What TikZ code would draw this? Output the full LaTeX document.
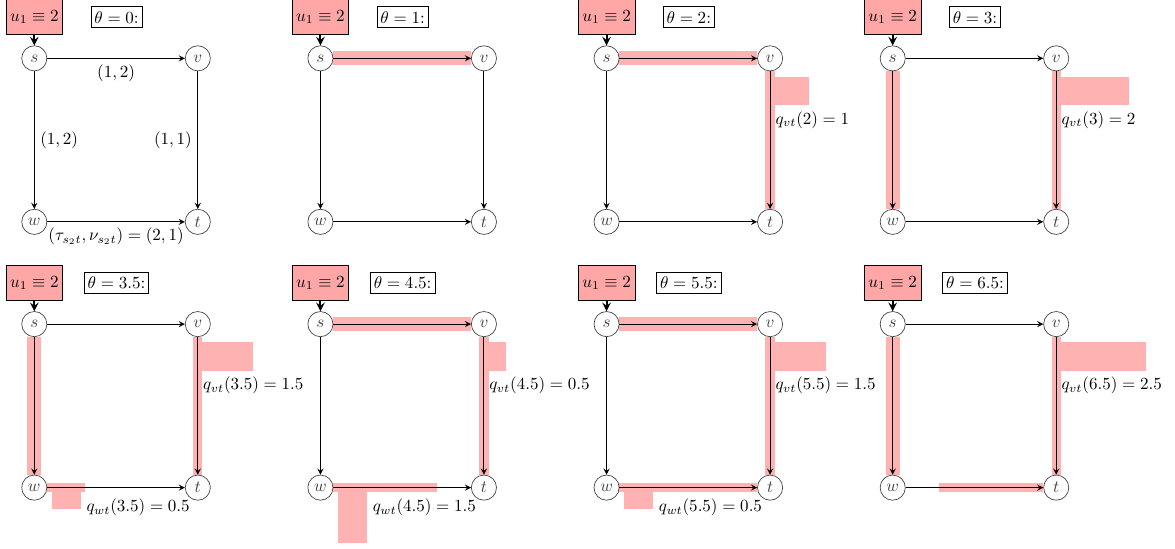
\documentclass[tikz,border=0pt]{standalone}
\usetikzlibrary{positioning,backgrounds}
\newcommand{\netpanel}[3]{%
  \node[vertex] (#1s) at (#2) {$s$};
  \node[vertex, right=of #1s] (#1v) {$v$};
  \node[vertex, below=of #1s] (#1w) {$w$};
  \node[vertex, below=of #1v] (#1t) {$t$};
  \node[inflow, above=0.85cm of #1s] (#1u) {$u_1\equiv 2$};
  \node[timebox, right=1.7cm of #1u] (#1h) {$\theta=#3$:};
  \draw[feed] (#1u) -- (#1s);
  \draw[link] (#1s) -- (#1v);
  \draw[link] (#1s) -- (#1w);
  \draw[link] (#1v) -- (#1t);
  \draw[link] (#1w) -- (#1t);
}

\begin{document}
\begin{tikzpicture}[
      node distance=3.38cm, on grid,
      >=stealth,
      vertex/.style={circle, draw=black!75, text=black!75, minimum size=0.52cm, inner sep=0pt},
      inflow/.style={draw, fill=red!35, minimum width=1.17cm, minimum height=0.72cm, inner sep=2pt},
      timebox/.style={draw, minimum height=0.43cm, inner sep=2pt},
      link/.style={->, semithick},
      feed/.style={->, very thick},
      band2/.style={red!30, line width=0.29cm},
      band1/.style={red!30, line width=0.19cm},
      queue/.style={fill=red!30},
      qlabel/.style={inner sep=1pt, anchor=west}
    ]
  \useasboundingbox (0,0) rectangle (24.29,11.33);

  % Draw the eight snapshots, top row then bottom row
  \netpanel{A}{0.709,10.124}{0}
  \netpanel{B}{6.624,10.124}{1}
  \netpanel{C}{12.539,10.124}{2}
  \netpanel{D}{18.454,10.124}{3}
  \netpanel{E}{0.709,4.63}{3.5}
  \netpanel{F}{6.624,4.63}{4.5}
  \netpanel{G}{12.539,4.63}{5.5}
  \netpanel{H}{18.454,4.63}{6.5}

  % Transit times and capacities
  \path (As) -- (Av) node[midway, below] {$(1,2)$};
  \path (As) -- (Aw) node[midway, right] {$(1,2)$};
  \path (Av) -- (At) node[midway, left] {$(1,1)$};
  \path (Aw) -- (At) node[midway, below] {$(\tau_{s_2t},\nu_{s_2t})=(2,1)$};

  % Queue labels
  \node[qlabel] (Cqvt) at ([shift={(0.07,-1.27)}]Cv) {$q_{vt}(2)=1$};
  \node[qlabel] (Dqvt) at ([shift={(0.07,-1.27)}]Dv) {$q_{vt}(3)=2$};
  \node[qlabel] (Eqvt) at ([shift={(0.07,-1.27)}]Ev) {$q_{vt}(3.5)=1.5$};
  \node[qlabel] (Fqvt) at ([shift={(0.07,-1.27)}]Fv) {$q_{vt}(4.5)=0.5$};
  \node[qlabel] (Gqvt) at ([shift={(0.07,-1.27)}]Gv) {$q_{vt}(5.5)=1.5$};
  \node[qlabel] (Hqvt) at ([shift={(0.07,-1.27)}]Hv) {$q_{vt}(6.5)=2.5$};
  \node[qlabel] (Eqwt) at ([shift={(1.04,-0.41)}]Ew) {$q_{wt}(3.5)=0.5$};
  \node[qlabel] (Fqwt) at ([shift={(1.04,-0.41)}]Fw) {$q_{wt}(4.5)=1.5$};
  \node[qlabel] (Gqwt) at ([shift={(1.04,-0.41)}]Gw) {$q_{wt}(5.5)=0.5$};

  % Flow bands and queues behind the arcs
  \begin{scope}[on background layer]
    \draw[band2] (Bs.east) -- (Bv.west);

    \draw[band2] (Cs.east) -- (Cv.west);
    \draw[band1] (Cv.south) -- (Ct.north);
    \fill[queue] ([shift={(0.095,-0.38)}]Cv) rectangle +(0.703,-0.585);

    \draw[band2] (Ds.south) -- (Dw.north);
    \draw[band1] (Dv.south) -- (Dt.north);
    \fill[queue] ([shift={(0.095,-0.38)}]Dv) rectangle +(1.406,-0.585);

    \draw[band2] (Es.south) -- (Ew.north);
    \draw[band1] (Ev.south) -- (Et.north);
    \fill[queue] ([shift={(0.095,-0.38)}]Ev) rectangle +(1.055,-0.585);
    \draw[band1] (Ew.east) -- ([xshift=1.05cm]Ew.center);
    \fill[queue] ([shift={(0.37,-0.095)}]Ew) rectangle +(0.59,-0.352);

    \draw[band2] (Fs.east) -- (Fv.west);
    \draw[band1] (Fv.south) -- (Ft.north);
    \fill[queue] ([shift={(0.095,-0.38)}]Fv) rectangle +(0.352,-0.585);
    \draw[band1] (Fw.east) -- ([xshift=2.41cm]Fw.center);
    \fill[queue] ([shift={(0.37,-0.095)}]Fw) rectangle +(0.59,-1.055);

    \draw[band2] (Gs.east) -- (Gv.west);
    \draw[band1] (Gv.south) -- (Gt.north);
    \fill[queue] ([shift={(0.095,-0.38)}]Gv) rectangle +(1.055,-0.585);
    \draw[band1] (Gw.east) -- (Gt.west);
    \fill[queue] ([shift={(0.37,-0.095)}]Gw) rectangle +(0.59,-0.352);

    \draw[band2] (Hs.south) -- (Hw.north);
    \draw[band1] (Hv.south) -- (Ht.north);
    \fill[queue] ([shift={(0.095,-0.38)}]Hv) rectangle +(1.758,-0.585);
    \draw[band1] ([xshift=0.965cm]Hw.center) -- (Ht.west);
  \end{scope}
\end{tikzpicture}
\end{document}
